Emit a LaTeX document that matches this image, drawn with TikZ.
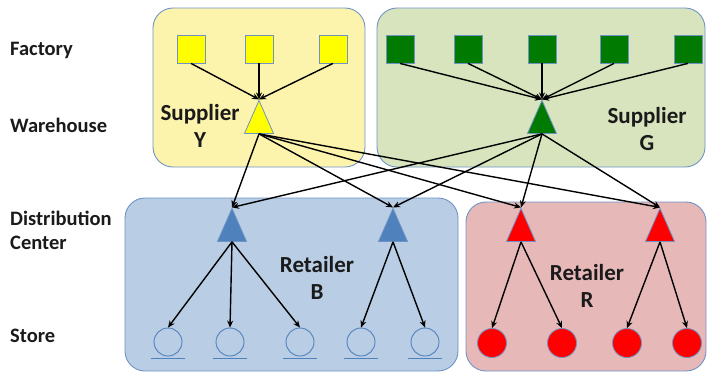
\documentclass[tikz,border=0pt]{standalone}
\usepackage{fontspec}
\setmainfont{Carlito}
\usetikzlibrary{shapes.geometric,arrows.meta}
\definecolor{bordc}{HTML}{6F93C4}
\definecolor{yelbg}{HTML}{FCF3AC}
\definecolor{grnbg}{HTML}{D7E4BD}
\definecolor{blubg}{HTML}{B9CDE5}
\definecolor{redbg}{HTML}{E6B9B8}
\definecolor{yel}{HTML}{FFFF00}
\definecolor{grn}{HTML}{007A00}
\definecolor{blu}{HTML}{4F81BD}
\definecolor{rd}{HTML}{FF0000}
\definecolor{txt}{HTML}{1A1A1A}
\begin{document}
\begin{tikzpicture}[x=1pt,y=-1pt,
  grp/.style={draw=bordc, line width=0.9pt, rounded corners=20pt, inner sep=0pt},
  fsq/.style={draw=bordc, line width=0.8pt, minimum width=28pt, minimum height=28pt, inner sep=0pt},
  tri/.style={isosceles triangle, isosceles triangle stretches, shape border rotate=90,
    draw=bordc, line width=0.8pt, inner sep=0pt, minimum width=29pt, minimum height=33pt},
  storeB/.style={circle, draw=blu, line width=0.9pt, minimum size=28pt, inner sep=0pt},
  storeR/.style={circle, draw=bordc, fill=rd, line width=0.8pt, minimum size=29pt, inner sep=0pt},
  arr/.style={-{Stealth[length=7pt,width=6pt]}, line width=1.4pt, black},
  side/.style={font=\fontsize{20.5}{24}\selectfont\bfseries, text=txt, anchor=west, align=left, inner sep=0pt},
  big/.style={font=\fontsize{23}{27}\selectfont\bfseries, text=txt, align=center, inner sep=0pt}
]
\useasboundingbox (0,0) rectangle (708,373);

% group boxes
\node[grp, fill=yelbg, minimum width=212pt, minimum height=159pt] (gy) at (259,87.5) {};
\node[grp, fill=grnbg, minimum width=328pt, minimum height=159pt] (gg) at (541,87.5) {};
\node[grp, fill=blubg, minimum width=333pt, minimum height=173pt] (gb) at (291.5,284.5) {};
\node[grp, fill=redbg, minimum width=240pt, minimum height=169pt] (gr) at (586,286.5) {};

% side labels
\node[side] (lf) at (10,50) {Factory};
\node[side] (lw) at (10,125) {Warehouse};
\node[side] (ld) at (10,230) {Distribution\\Center};
\node[side] (ls) at (10,336) {Store};

% group labels
\node[big] (ty) at (200,126) {Supplier\\Y};
\node[big] (tg) at (647,129) {Supplier\\G};
\node[big] (tb) at (317,278) {Retailer\\B};
\node[big] (tr) at (587,286) {Retailer\\R};

% factories
\node[fsq, fill=yel] (fy1) at (191,49) {};
\node[fsq, fill=yel] (fy2) at (259,49) {};
\node[fsq, fill=yel] (fy3) at (333,49) {};
\node[fsq, fill=grn] (fg1) at (400,49) {};
\node[fsq, fill=grn] (fg2) at (468,49) {};
\node[fsq, fill=grn] (fg3) at (542,49) {};
\node[fsq, fill=grn] (fg4) at (614,49) {};
\node[fsq, fill=grn] (fg5) at (688,49) {};

% warehouses
\node[tri, fill=yel] (wy) at (259,124) {};
\node[tri, fill=grn] (wg) at (542,124) {};

% distribution centers
\node[tri, fill=blu] (d1) at (232,232) {};
\node[tri, fill=blu] (d2) at (393,232) {};
\node[tri, fill=rd] (d3) at (521,232) {};
\node[tri, fill=rd] (d4) at (660,232) {};

% stores
\foreach \i/\x in {1/168,2/230,3/300,4/361,5/425}{
  \node[storeB] (sb\i) at (\x,342) {};
  \draw[blu, line width=0.9pt] ([xshift=-17pt,yshift=-2pt]sb\i.south) -- ([xshift=17pt,yshift=-2pt]sb\i.south);
}
\foreach \i/\x in {1/492,2/562,3/627,4/687}{
  \node[storeR] (sr\i) at (\x,343) {};
}

% factory -> warehouse
\foreach \f in {fy1,fy2,fy3}{ \draw[arr] (\f.south) -- (wy.north); }
\foreach \f in {fg1,fg2,fg3,fg4,fg5}{ \draw[arr] (\f.south) -- (wg.north); }

% warehouse -> distribution
\foreach \w in {wy,wg}{
  \foreach \d in {d1,d2,d3,d4}{ \draw[arr] (\w.south) -- (\d.north); }
}

% distribution -> store
\foreach \s in {sb1,sb2,sb3}{ \draw[arr] (d1.south) -- (\s.north); }
\foreach \s in {sb4,sb5}{ \draw[arr] (d2.south) -- (\s.north); }
\foreach \s in {sr1,sr2}{ \draw[arr] (d3.south) -- (\s.north); }
\foreach \s in {sr3,sr4}{ \draw[arr] (d4.south) -- (\s.north); }
\end{tikzpicture}
\end{document}
